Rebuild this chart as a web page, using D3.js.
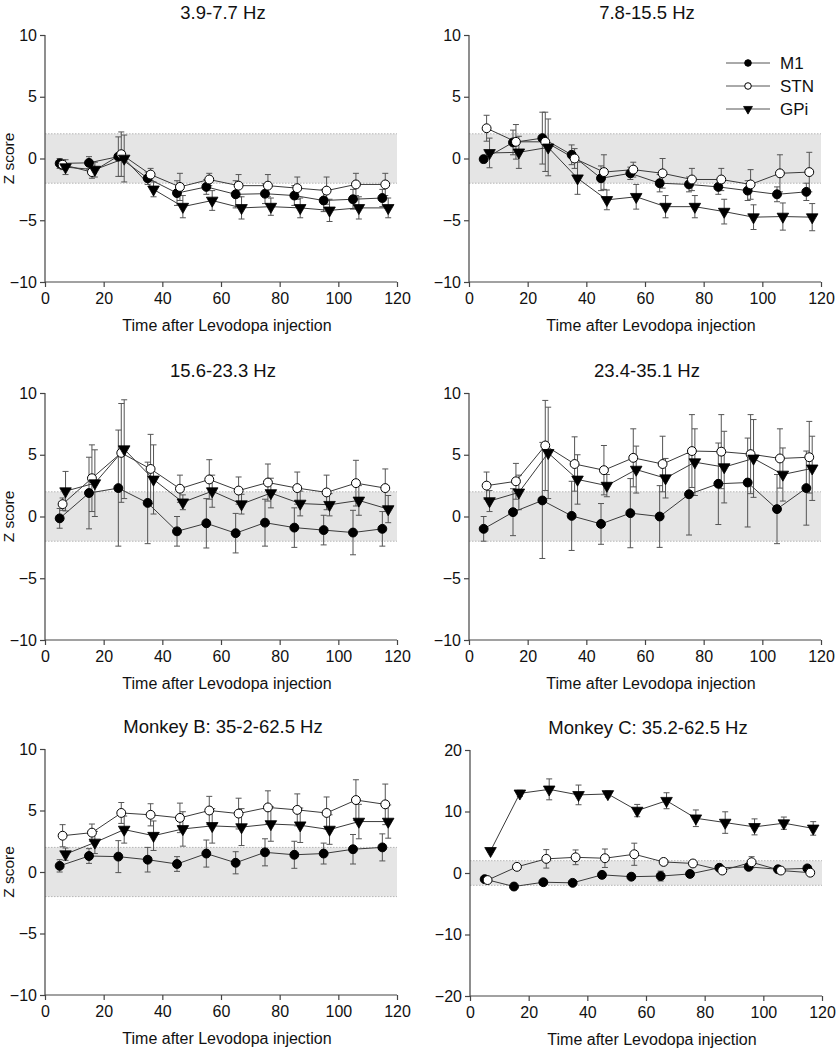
<!DOCTYPE html>
<html><head><meta charset="utf-8">
<script src="https://cdn.jsdelivr.net/npm/d3@7"></script>
<style>body{margin:0;background:#fff}svg{display:block;font-family:"Liberation Sans",Arial,sans-serif}</style>
</head><body><svg id="c" width="839" height="1050"></svg>
<script>
// ---- data ----
const timeM1  = [5,15,25,35,45,55,65,75,85,95,105,115];
const timeSTN = [6,16,26,36,46,56,66,76,86,96,106,116];
const timeGPi = [7,17,27,37,47,57,67,77,87,97,107,117];
const xTicks = [0,20,40,60,80,100,120];
const yTicks10 = [-10,-5,0,5,10];
const yTicks20 = [-20,-10,0,10,20];
const titles = ["3.9-7.7 Hz","7.8-15.5 Hz","15.6-23.3 Hz","23.4-35.1 Hz","Monkey B: 35-2-62.5 Hz","Monkey C: 35.2-62.5 Hz"];
const seriesNames = ["M1","STN","GPi"];

// panel 1: 3.9-7.7 Hz
const p1M1   = [-0.4,-0.35,0.15,-1.6,-2.8,-2.3,-2.9,-2.85,-3.0,-3.4,-3.3,-3.2];
const p1M1e  = [0.4,0.5,1.6,0.5,1.0,0.6,1.1,0.8,0.8,0.9,0.8,0.7];
const p1STN  = [-0.5,-1.1,0.35,-1.3,-2.3,-1.7,-2.2,-2.2,-2.4,-2.6,-2.1,-2.1];
const p1STNe = [0.4,0.5,1.8,0.5,1.1,0.5,0.9,0.9,0.9,1.1,0.9,0.9];
const p1GPi  = [-0.7,-0.9,0.0,-2.5,-3.9,-3.4,-4.0,-3.9,-4.0,-4.2,-4.0,-4.0];
const p1GPie = [0.6,0.6,1.9,0.6,0.9,0.8,0.9,0.7,0.8,0.9,0.9,0.8];
// panel 2: 7.8-15.5 Hz
const p2M1   = [-0.05,1.3,1.65,0.3,-1.6,-1.2,-2.0,-2.1,-2.3,-2.6,-2.9,-2.7];
const p2M1e  = [0.3,1.0,2.1,0.8,1.0,0.5,0.7,0.6,0.6,0.8,0.6,0.7];
const p2STN  = [2.45,1.35,1.35,0.0,-1.1,-0.9,-1.2,-1.7,-1.7,-2.1,-1.2,-1.1];
const p2STNe = [1.05,1.4,2.4,0.8,1.4,0.6,1.2,0.9,0.9,1.2,1.5,1.6];
const p2GPi  = [0.45,0.5,0.9,-1.6,-3.35,-3.1,-3.9,-3.9,-4.3,-4.75,-4.7,-4.75];
const p2GPie = [1.2,1.3,2.3,1.3,0.8,1.0,0.9,0.9,1.0,1.0,1.1,1.1];
// panel 3: 15.6-23.3 Hz
const p3M1   = [-0.15,1.9,2.3,1.1,-1.2,-0.55,-1.35,-0.5,-0.9,-1.1,-1.3,-1.0];
const p3M1e  = [0.8,2.9,4.7,3.3,1.2,2.0,1.6,1.9,1.6,1.2,1.8,1.4];
const p3STN  = [1.0,3.1,5.15,3.85,2.25,3.0,2.1,2.75,2.3,1.95,2.7,2.3];
const p3STNe = [0.5,2.7,4.0,2.8,1.1,1.6,1.1,1.5,1.3,1.4,1.85,1.55];
const p3GPi  = [2.05,2.7,5.45,3.0,1.15,2.05,1.0,1.9,1.05,0.95,1.3,0.6];
const p3GPie = [1.6,2.7,4.0,2.8,0.6,1.3,0.8,1.2,1.0,0.9,1.2,1.1];
// panel 4: 23.4-35.1 Hz
const p4M1   = [-1.0,0.35,1.3,0.05,-0.6,0.27,0.0,1.8,2.65,2.75,0.6,2.3];
const p4M1e  = [1.0,1.9,4.7,2.8,1.65,2.8,2.5,3.3,3.3,3.6,2.8,3.0];
const p4STN  = [2.5,2.85,5.75,4.25,3.75,4.75,4.25,5.3,5.25,5.05,4.7,4.8];
const p4STNe = [1.1,1.45,3.65,2.2,2.0,2.35,2.25,2.95,3.0,3.2,2.4,2.9];
const p4GPi  = [1.25,1.95,5.15,3.0,2.5,3.8,3.1,4.4,4.0,4.7,3.4,3.9];
const p4GPie = [0.85,1.4,3.7,2.0,0.9,1.9,1.6,2.7,2.9,3.15,2.15,2.6];
// panel 5: Monkey B 35.2-62.5 Hz
const p5M1   = [0.5,1.3,1.25,1.0,0.65,1.5,0.75,1.6,1.4,1.5,1.85,2.0];
const p5M1e  = [0.5,0.6,1.3,1.0,0.6,1.1,0.9,1.1,1.1,0.85,1.2,1.1];
const p5STN  = [2.95,3.2,4.8,4.65,4.4,5.0,4.75,5.25,5.05,4.8,5.85,5.5];
const p5STNe = [0.9,0.7,0.85,0.9,1.2,1.15,1.25,1.35,1.3,1.3,1.65,1.65];
const p5GPi  = [1.45,2.4,3.45,2.95,3.5,3.75,3.65,3.9,3.8,3.45,4.1,4.1];
const p5GPie = [0.5,0.9,1.1,1.2,1.4,1.4,1.5,1.4,1.4,1.2,1.4,1.35];
// panel 6: Monkey C 35.2-62.5 Hz
const p6M1   = [-1.0,-2.2,-1.5,-1.6,-0.3,-0.6,-0.5,-0.15,0.85,1.0,0.6,0.75];
const p6M1e  = [0.2,0.3,0.3,0.3,0.3,0.3,0.8,0.5,0.3,0.3,0.3,0.3];
const p6STN  = [-1.15,1.0,2.3,2.55,2.4,3.05,1.8,1.55,0.4,1.75,0.4,0.05];
const p6STNe = [0.2,0.3,1.5,1.2,1.5,1.8,0.5,0.5,0.4,0.9,0.3,0.3];
const p6GPi  = [3.6,12.95,13.6,12.7,12.85,10.15,11.75,8.9,8.2,7.5,8.1,7.25];
const p6GPie = [0.2,0.5,1.7,1.6,0.5,1.0,1.3,1.35,1.75,1.3,1.0,1.1];

// ---- build ----
const panelData = [
  [[p1M1,p1M1e],[p1STN,p1STNe],[p1GPi,p1GPie]],
  [[p2M1,p2M1e],[p2STN,p2STNe],[p2GPi,p2GPie]],
  [[p3M1,p3M1e],[p3STN,p3STNe],[p3GPi,p3GPie]],
  [[p4M1,p4M1e],[p4STN,p4STNe],[p4GPi,p4GPie]],
  [[p5M1,p5M1e],[p5STN,p5STNe],[p5GPi,p5GPie]],
  [[p6M1,p6M1e],[p6STN,p6STNe],[p6GPi,p6GPie]]
];
const times = [timeM1,timeSTN,timeGPi];
const layout = [
  {l:45,t:35,w:352,h:247,dom:[-10,10],ticks:yTicks10,zlabel:true},
  {l:469,t:35,w:352,h:247,dom:[-10,10],ticks:yTicks10,zlabel:false},
  {l:45,t:393,w:352,h:247,dom:[-10,10],ticks:yTicks10,zlabel:true},
  {l:469,t:393,w:352,h:247,dom:[-10,10],ticks:yTicks10,zlabel:false},
  {l:45,t:749,w:352,h:246,dom:[-10,10],ticks:yTicks10,zlabel:true},
  {l:470,t:750,w:352,h:246,dom:[-20,20],ticks:yTicks20,zlabel:false}
];
const lineCol = "#3a3a3a", axisCol = "#444", errCol = "#555";
const svg = d3.select("#c");
const circ = d3.symbol().type(d3.symbolCircle).size(62);
const tri = d3.symbol().type(d3.symbolTriangle).size(58);
const circS = d3.symbol().type(d3.symbolCircle).size(34);
const triS = d3.symbol().type(d3.symbolTriangle).size(34);

function marker(g, k, small){
  if(k===2){
    g.append("path").attr("d",small?triS:tri).attr("transform","rotate(180)").attr("fill","#000").attr("stroke","#000").attr("stroke-width",0.8);
  } else {
    g.append("path").attr("d",small?circS:circ).attr("fill",k===0?"#000":"#fff").attr("stroke","#000").attr("stroke-width",1);
  }
}

layout.forEach((L,pi)=>{
  const g = svg.append("g").attr("transform",`translate(${L.l},${L.t})`);
  const x = d3.scaleLinear().domain([0,120]).range([0,L.w]);
  const y = d3.scaleLinear().domain(L.dom).range([L.h,0]);
  // band
  g.append("rect").attr("x",x(0)).attr("width",x(120)-x(0)).attr("y",y(2)).attr("height",y(-2)-y(2)).attr("fill","#e5e5e5");
  [2,-2].forEach(v=>g.append("line").attr("x1",x(0)).attr("x2",x(120)).attr("y1",y(v)).attr("y2",y(v))
     .attr("stroke","#b5b5b5").attr("stroke-width",1).attr("stroke-dasharray","1.5,1.5"));
  // axes
  const ya = g.append("g").call(d3.axisLeft(y).tickValues(L.ticks).tickSize(5).tickPadding(3).tickFormat(d3.format("d")));
  const xa = g.append("g").attr("transform",`translate(0,${L.h})`).call(d3.axisBottom(x).tickValues(xTicks).tickSize(5).tickPadding(6));
  [ya,xa].forEach(a=>{a.select(".domain").attr("stroke",axisCol).attr("stroke-width",1.2);
    a.selectAll(".tick line").attr("stroke",axisCol).attr("stroke-width",1.2);
    a.selectAll("text").attr("fill","#111").style("font-size","16px");});
  ya.select(".domain").attr("d",`M0,${L.h}V0`);
  xa.select(".domain").attr("d",`M0,0H${L.w}`);
  // titles / labels
  svg.append("text").attr("x",L.l+L.w/2+2).attr("y",L.t-16).attr("text-anchor","middle").style("font-size","18.5px").attr("fill","#111").text(titles[pi]);
  svg.append("text").attr("x",L.l+L.w/2+6).attr("y",L.t+L.h+49).attr("text-anchor","middle").style("font-size","16px").attr("fill","#111").text("Time after Levodopa injection");
  if(L.zlabel){
    svg.append("text").attr("transform",`translate(${L.l-31},${L.t+L.h/2})rotate(-90)`).attr("text-anchor","middle").style("font-size","15.5px").attr("fill","#111").text("Z score");
  }
  const cap = 3;
  const lineGen = d3.line().x(d=>x(d[0])).y(d=>y(d[1]));
  // error bars then lines then markers
  panelData[pi].forEach((s,k)=>{
    const pts = times[k].map((t,i)=>[t,s[0][i],s[1][i]]);
    const eg = g.append("g").attr("stroke",errCol).attr("stroke-width",1);
    pts.forEach(p=>{
      eg.append("line").attr("x1",x(p[0])).attr("x2",x(p[0])).attr("y1",y(p[1]+p[2])).attr("y2",y(p[1]-p[2]));
      [p[1]+p[2],p[1]-p[2]].forEach(v=>eg.append("line").attr("x1",x(p[0])-cap).attr("x2",x(p[0])+cap).attr("y1",y(v)).attr("y2",y(v)));
    });
  });
  panelData[pi].forEach((s,k)=>{
    const pts = times[k].map((t,i)=>[t,s[0][i]]);
    g.append("path").attr("d",lineGen(pts)).attr("fill","none").attr("stroke",lineCol).attr("stroke-width",1);
  });
  panelData[pi].forEach((s,k)=>{
    times[k].forEach((t,i)=>{
      const mg = g.append("g").attr("transform",`translate(${x(t)},${y(s[0][i])})`);
      marker(mg,k,false);
    });
  });
});

// legend (in panel 2)
const lg = svg.append("g").attr("transform","translate(726,63)");
seriesNames.forEach((n,k)=>{
  const row = lg.append("g").attr("transform",`translate(0,${k*23})`);
  row.append("line").attr("x1",0).attr("x2",44).attr("stroke","#555").attr("stroke-width",1);
  const mg = row.append("g").attr("transform","translate(22,0)");
  marker(mg,k,true);
  row.append("text").attr("x",54).attr("y",6).style("font-size","17px").attr("fill","#111").text(n);
});
</script></body></html>
